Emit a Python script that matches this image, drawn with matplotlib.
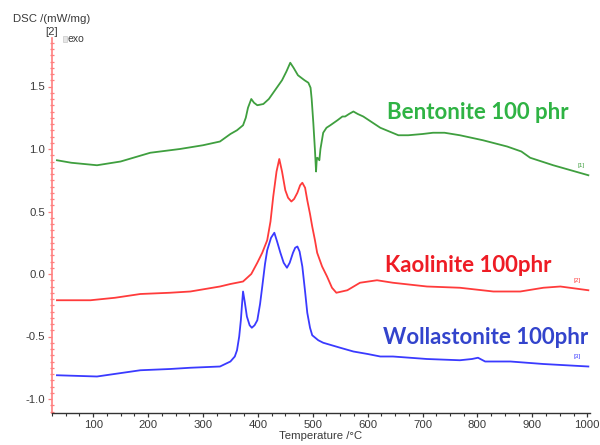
import matplotlib
matplotlib.use("Agg")
import matplotlib.pyplot as plt
from matplotlib.ticker import MultipleLocator
from matplotlib.patches import Rectangle

# DSC curves: temperature (°C) and heat flow (mW/mg)
bentonite_t = [34, 60, 107, 150, 204, 258, 300, 331, 350, 362, 373, 378, 382, 388, 393,
               399, 410, 420, 428, 444, 452, 459, 465, 473, 485, 492, 496, 498, 501, 504,
               506, 507, 508, 511, 512, 514, 519, 525, 532, 545, 554, 559, 566, 574, 582,
               592, 623, 656, 674, 700, 719, 740, 768, 810, 854, 880, 896, 938, 1002]
bentonite_v = [0.91, 0.89, 0.87, 0.90, 0.97, 1.00, 1.03, 1.06, 1.12, 1.15, 1.19, 1.25, 1.33, 1.40, 1.37,
               1.35, 1.36, 1.40, 1.45, 1.55, 1.62, 1.69, 1.65, 1.59, 1.55, 1.53, 1.49, 1.40, 1.21, 0.99,
               0.82, 0.90, 0.93, 0.92, 0.91, 1.00, 1.13, 1.17, 1.19, 1.23, 1.26, 1.26, 1.28, 1.30, 1.28,
               1.26, 1.17, 1.11, 1.11, 1.12, 1.13, 1.13, 1.11, 1.07, 1.02, 0.98, 0.93, 0.87, 0.79]

kaolinite_t = [34, 95, 140, 186, 240, 277, 331, 350, 373, 388, 399, 408, 417, 423, 428,
               434, 439, 444, 450, 455, 461, 466, 472, 477, 481, 486, 490, 495, 499, 504,
               508, 517, 526, 535, 543, 553, 563, 586, 617, 646, 708, 768, 829, 878, 920,
               951, 1002]
kaolinite_v = [-0.21, -0.21, -0.19, -0.16, -0.15, -0.14, -0.10, -0.08, -0.06, 0.00, 0.09, 0.17, 0.27, 0.42, 0.62,
               0.82, 0.92, 0.82, 0.67, 0.61, 0.58, 0.60, 0.65, 0.71, 0.73, 0.69, 0.59, 0.48, 0.38, 0.27,
               0.17, 0.06, -0.02, -0.11, -0.15, -0.14, -0.13, -0.07, -0.05, -0.07, -0.10, -0.11, -0.14, -0.14, -0.11,
               -0.10, -0.13]

wollastonite_t = [34, 107, 186, 240, 277, 331, 350, 358, 362, 366, 369, 371, 373, 376, 380,
                  385, 389, 394, 399, 404, 408, 413, 417, 424, 430, 435, 441, 447, 453, 458,
                  464, 468, 472, 476, 481, 486, 490, 495, 499, 510, 519, 550, 574, 600, 623,
                  646, 708, 768, 790, 801, 814, 860, 920, 1002]
wollastonite_v = [-0.81, -0.82, -0.77, -0.76, -0.75, -0.74, -0.70, -0.66, -0.61, -0.50, -0.37, -0.25, -0.14, -0.22, -0.34,
                  -0.41, -0.43, -0.41, -0.37, -0.24, -0.10, 0.08, 0.19, 0.29, 0.33, 0.26, 0.17, 0.09, 0.05, 0.09,
                  0.17, 0.21, 0.22, 0.18, 0.06, -0.14, -0.31, -0.43, -0.49, -0.53, -0.55, -0.59, -0.62, -0.64, -0.66,
                  -0.66, -0.68, -0.69, -0.68, -0.67, -0.70, -0.70, -0.72, -0.74]

series_names = ["Bentonite 100 phr", "Kaolinite 100phr", "Wollastonite 100phr"]
curve_tags = ["[1]", "[2]", "[3]"]

x_ticks = [100, 200, 300, 400, 500, 600, 700, 800, 900, 1000]
y_ticks = [-1.0, -0.5, 0.0, 0.5, 1.0, 1.5]

line_colors = ["#3f9f3f", "#ff3b3b", "#3a3aff"]
text_colors = ["#2fb344", "#ee1c25", "#3344cc"]
axis_text = "#3a3a3a"

plt.rcParams["font.family"] = ["Liberation Sans", "DejaVu Sans"]

fig = plt.figure(figsize=(6.0, 4.45), dpi=100)
ax = fig.add_axes([52 / 600, 1 - 413 / 445, (590 - 52) / 600, (413 - 38) / 445])

ax.plot(bentonite_t, bentonite_v, color=line_colors[0], lw=1.3, solid_joinstyle="round")
ax.plot(kaolinite_t, kaolinite_v, color=line_colors[1], lw=1.3, solid_joinstyle="round")
ax.plot(wollastonite_t, wollastonite_v, color=line_colors[2], lw=1.3, solid_joinstyle="round")

ax.set_xlim(25, 1005)
ax.set_ylim(-1.112, 1.888)

ax.spines["top"].set_visible(False)
ax.spines["right"].set_visible(False)
ax.spines["left"].set_color("#ff7f7f")
ax.spines["left"].set_linewidth(1.2)
ax.spines["bottom"].set_color("#333333")
ax.spines["bottom"].set_linewidth(1.0)

ax.set_xticks(x_ticks)
ax.set_yticks(y_ticks)
ax.set_yticklabels([f"{v:.1f}" for v in y_ticks])
ax.xaxis.set_minor_locator(MultipleLocator(25))
ax.yaxis.set_minor_locator(MultipleLocator(0.05))

ax.tick_params(axis="x", which="major", direction="out", length=3, width=0.9,
               color="#333333", labelsize=8.2, labelcolor=axis_text, pad=2)
ax.tick_params(axis="x", which="minor", direction="out", length=2, width=0.8, color="#333333")
ax.tick_params(axis="y", which="major", direction="out", length=3, width=0.9,
               color="#ff7f7f", labelsize=8.2, labelcolor=axis_text, pad=2)
ax.tick_params(axis="y", which="minor", direction="inout", length=2.5, width=0.9, color="#ff7f7f")

ax.set_xlabel("Temperature /°C", fontsize=8.2, color=axis_text, labelpad=1)

# Axis heading, curve segment tag and exo marker
fig.text(52 / 600, 1 - 19 / 445, "DSC /(mW/mg)", fontsize=8.2, color=axis_text,
         ha="center", va="center")
fig.text(52 / 600, 1 - 32 / 445, "[2]", fontsize=8.2, color=axis_text,
         ha="center", va="center")
fig.patches.append(Rectangle((63 / 600, 1 - 42 / 445), 4 / 600, 6 / 445,
                             transform=fig.transFigure, facecolor="#e6e6e6",
                             edgecolor="#c8c8c8", linewidth=0.5))
fig.text(68 / 600, 1 - 39 / 445, "exo", fontsize=7.5, color=axis_text,
         ha="left", va="center")

# Sample names
label_font = ["Lato", "DejaVu Sans"]
ax.text(801, 1.29, series_names[0], color=text_colors[0], fontsize=16,
        fontweight="bold", family=label_font, ha="center", va="center")
ax.text(783, 0.07, series_names[1], color=text_colors[1], fontsize=16,
        fontweight="bold", family=label_font, ha="center", va="center")
ax.text(814, -0.51, series_names[2], color=text_colors[2], fontsize=16,
        fontweight="bold", family=label_font, ha="center", va="center")

# Small curve tags near the right end of each curve
ax.text(988, 0.87, curve_tags[0], color=line_colors[0], fontsize=4.5, ha="center", va="center")
ax.text(982, -0.05, curve_tags[1], color=line_colors[1], fontsize=4.5, ha="center", va="center")
ax.text(982, -0.66, curve_tags[2], color=line_colors[2], fontsize=4.5, ha="center", va="center")

fig.savefig("out.png", dpi=100)
